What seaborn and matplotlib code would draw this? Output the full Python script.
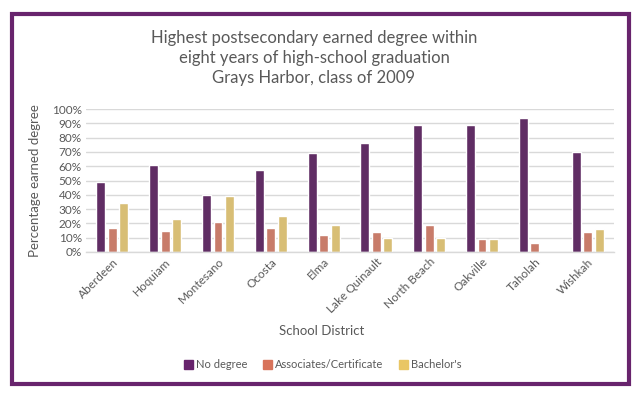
import pandas as pd
import seaborn as sns
import matplotlib.pyplot as plt
from matplotlib.patches import Rectangle
from matplotlib.ticker import PercentFormatter

# Values (share of class, 0-1)
districts = ['Aberdeen', 'Hoquiam', 'Montesano', 'Ocosta', 'Elma',
             'Lake Quinault', 'North Beach', 'Oakville', 'Taholah', 'Wishkah']
no_degree = [0.49, 0.61, 0.40, 0.57, 0.69, 0.76, 0.89, 0.89, 0.94, 0.70]
associates = [0.17, 0.15, 0.21, 0.17, 0.12, 0.14, 0.19, 0.09, 0.06, 0.14]
bachelors = [0.34, 0.23, 0.39, 0.25, 0.19, 0.10, 0.10, 0.09, 0.00, 0.16]
series_names = ['No degree', 'Associates/Certificate', "Bachelor's"]
colors = ['#68246D', '#D8735A', '#E9C664']

df = pd.DataFrame({'District': districts,
                   series_names[0]: no_degree,
                   series_names[1]: associates,
                   series_names[2]: bachelors})
long = df.melt(id_vars='District', var_name='Degree', value_name='Share')

sns.set_style('white')
plt.rcParams['font.family'] = ['Lato', 'DejaVu Sans']
text_color = '#595959'
grid_color = '#D9D9D9'

fig = plt.figure(figsize=(6.41, 3.96), dpi=100)
ax = fig.add_axes([86 / 641, 1 - 252 / 396, (614 - 86) / 641, (252 - 109) / 396])

sns.barplot(data=long, x='District', y='Share', hue='Degree',
            hue_order=series_names, palette=colors, width=0.65, gap=0.22,
            legend=False, ax=ax)

ax.set_ylim(0, 1.0)
ax.set_yticks([i / 10 for i in range(11)])
ax.yaxis.set_major_formatter(PercentFormatter(1.0, decimals=0))
ax.grid(axis='y', color=grid_color, linewidth=1)
ax.set_axisbelow(True)
for side in ['top', 'right', 'left']:
    ax.spines[side].set_visible(False)
ax.spines['bottom'].set_color(grid_color)
ax.spines['bottom'].set_linewidth(1)
ax.tick_params(axis='both', length=0, colors=text_color, labelsize=8.5, pad=3)
ax.set_xticks(range(len(districts)))
ax.set_xticklabels(districts, rotation=45, ha='right', rotation_mode='anchor')
ax.set_xlabel('')
ax.set_ylabel('Percentage earned degree', color=text_color, fontsize=9.5, labelpad=8)

fig.text(314 / 641, 1 - 58 / 396,
         'Highest postsecondary earned degree within\n'
         'eight years of high-school graduation\n'
         'Grays Harbor, class of 2009',
         ha='center', va='center', fontsize=12, color=text_color, linespacing=1.3)
fig.text(322 / 641, 1 - 331 / 396, 'School District', ha='center', va='center',
         fontsize=9.5, color=text_color)

handles = [Rectangle((0, 0), 1, 1, color=c) for c in colors]
fig.legend(handles, series_names, loc='center', bbox_to_anchor=(323 / 641, 1 - 365 / 396),
           ncol=3, frameon=False, fontsize=8, labelcolor=text_color,
           handlelength=0.8, handleheight=0.8, handletextpad=0.3, columnspacing=1.4)

fig.patches.append(Rectangle((12 / 641, 1 - 384 / 396), (629 - 12) / 641, (384 - 14) / 396,
                             transform=fig.transFigure, fill=False,
                             edgecolor='#68246D', linewidth=3))

fig.savefig('out.png', dpi=100)
